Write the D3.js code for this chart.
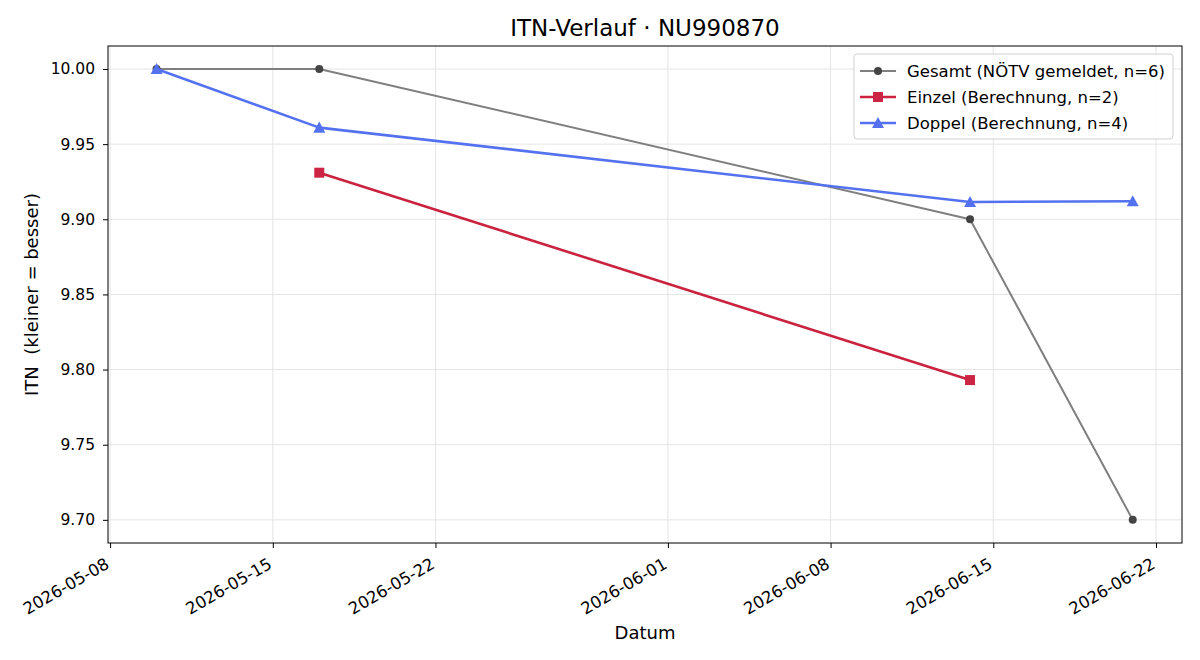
<!DOCTYPE html>
<html>
<head>
<meta charset="utf-8">
<script src="https://cdn.jsdelivr.net/npm/d3@7"></script>
<style>
  body { margin: 0; background: #fff; }
  svg { font-family: "DejaVu Sans", sans-serif; }
</style>
</head>
<body>
<svg id="chart" width="1200" height="660"></svg>
<script>
// ---- data ----
const gesamtDates = ['2026-05-10', '2026-05-17', '2026-06-14', '2026-06-21'];
const gesamtValues = [10.00, 10.00, 9.90, 9.70];
const einzelDates = ['2026-05-17', '2026-06-14'];
const einzelValues = [9.931, 9.793];
const doppelDates = ['2026-05-10', '2026-05-17', '2026-06-14', '2026-06-21'];
const doppelValues = [10.00, 9.961, 9.9115, 9.912];
const xTickLabels = ['2026-05-08', '2026-05-15', '2026-05-22', '2026-06-01', '2026-06-08', '2026-06-15', '2026-06-22'];
const yTickValues = [9.70, 9.75, 9.80, 9.85, 9.90, 9.95, 10.00];
const seriesNames = ['Gesamt (NÖTV gemeldet, n=6)', 'Einzel (Berechnung, n=2)', 'Doppel (Berechnung, n=4)'];

const parse = d3.utcParse('%Y-%m-%d');
const zip = (ds, vs) => ds.map((d, i) => ({ date: parse(d), value: vs[i] }));

const series = [
  { name: seriesNames[0], pts: zip(gesamtDates, gesamtValues), line: '#7f7f7f', mark: '#444444', width: 2, shape: 'circle', size: 8 },
  { name: seriesNames[1], pts: zip(einzelDates, einzelValues), line: '#c9233f', mark: '#cc2444', width: 2.6, shape: 'square', size: 10 },
  { name: seriesNames[2], pts: zip(doppelDates, doppelValues), line: '#5472f0', mark: '#5472f0', width: 2.6, shape: 'triangle', size: 12 }
];

// ---- layout ----
const margin = { left: 108, right: 18, top: 46, bottom: 117 };
const W = 1200, H = 660;
const iw = W - margin.left - margin.right;
const ih = H - margin.top - margin.bottom;

const svg = d3.select('#chart');
const g = svg.append('g').attr('transform', `translate(${margin.left},${margin.top})`);

const x = d3.scaleUtc()
  .domain([new Date(Date.UTC(2026, 4, 8) - 0.09 * 864e5), new Date(Date.UTC(2026, 5, 22) + 1.12 * 864e5)])
  .range([0, iw]);
const y = d3.scaleLinear().domain([9.6846, 10.0153]).range([ih, 0]);

const xTicks = xTickLabels.map(parse);

// grid
g.append('g').selectAll('line').data(xTicks).join('line')
  .attr('x1', d => x(d)).attr('x2', d => x(d)).attr('y1', 0).attr('y2', ih)
  .attr('stroke', '#e5e5e5').attr('stroke-width', 1);
g.append('g').selectAll('line').data(yTickValues).join('line')
  .attr('x1', 0).attr('x2', iw).attr('y1', d => y(d)).attr('y2', d => y(d))
  .attr('stroke', '#e5e5e5').attr('stroke-width', 1);

// lines + markers
const lineGen = d3.line().x(d => x(d.date)).y(d => y(d.value));
series.forEach(s => {
  g.append('path').datum(s.pts)
    .attr('d', lineGen).attr('fill', 'none')
    .attr('stroke', s.line).attr('stroke-width', s.width)
    .attr('stroke-linejoin', 'round');
  drawMarkers(g, s, s.pts.map(p => [x(p.date), y(p.value)]));
});

function drawMarkers(parent, s, coords) {
  const sel = parent.append('g');
  coords.forEach(([cx, cy]) => {
    if (s.shape === 'circle') {
      sel.append('circle').attr('cx', cx).attr('cy', cy).attr('r', s.size / 2).attr('fill', s.mark);
    } else if (s.shape === 'square') {
      sel.append('rect').attr('x', cx - s.size / 2).attr('y', cy - s.size / 2)
        .attr('width', s.size).attr('height', s.size).attr('fill', s.mark);
    } else {
      const r = s.size / 2;
      sel.append('path')
        .attr('d', `M${cx},${cy - r} L${cx + r},${cy + r * 0.85} L${cx - r},${cy + r * 0.85} Z`)
        .attr('fill', s.mark);
    }
  });
}

// axes
const xAxis = g.append('g').attr('transform', `translate(0,${ih})`)
  .call(d3.axisBottom(x).tickValues(xTicks).tickFormat(d3.utcFormat('%Y-%m-%d')).tickSizeOuter(0).tickSize(5));
xAxis.selectAll('text')
  .attr('font-size', 16.5).attr('fill', '#000')
  .attr('text-anchor', 'end')
  .attr('y', 0).attr('dy', '0.71em')
  .attr('transform', 'translate(-6,14) rotate(-30)');
const yAxis = g.append('g')
  .call(d3.axisLeft(y).tickValues(yTickValues).tickFormat(d3.format('.2f')).tickSizeOuter(0).tickSize(5));
yAxis.selectAll('text').attr('font-size', 15.5).attr('fill', '#000').attr('x', -13);
[xAxis, yAxis].forEach(a => { a.select('.domain').remove(); a.attr('font-family', null); });
g.selectAll('.tick line').attr('stroke', '#000');

// frame
g.append('rect').attr('width', iw).attr('height', ih)
  .attr('fill', 'none').attr('stroke', '#000').attr('stroke-width', 1);

// labels
svg.append('text').attr('x', margin.left + iw / 2).attr('y', 36)
  .attr('text-anchor', 'middle').attr('font-size', 23).text('ITN-Verlauf · NU990870');
svg.append('text').attr('x', margin.left + iw / 2).attr('y', 639)
  .attr('text-anchor', 'middle').attr('font-size', 18).text('Datum');
svg.append('text').attr('transform', `translate(38,${margin.top + ih / 2}) rotate(-90)`)
  .attr('text-anchor', 'middle').attr('font-size', 18).attr('xml:space', 'preserve')
  .text('ITN  (kleiner = besser)');

// legend
const lg = svg.append('g').attr('transform', 'translate(854,54)');
lg.append('rect').attr('width', 319).attr('height', 85).attr('rx', 3)
  .attr('fill', '#fff').attr('fill-opacity', 0.85).attr('stroke', '#d0d0d0');
series.forEach((s, i) => {
  const ly = 17 + i * 26;
  lg.append('line').attr('x1', 6).attr('x2', 42).attr('y1', ly).attr('y2', ly)
    .attr('stroke', s.line).attr('stroke-width', s.width);
  drawMarkers(lg, s, [[24, ly]]);
  lg.append('text').attr('x', 53).attr('y', ly + 6).attr('font-size', 16.5).text(s.name);
});
</script>
</body>
</html>
